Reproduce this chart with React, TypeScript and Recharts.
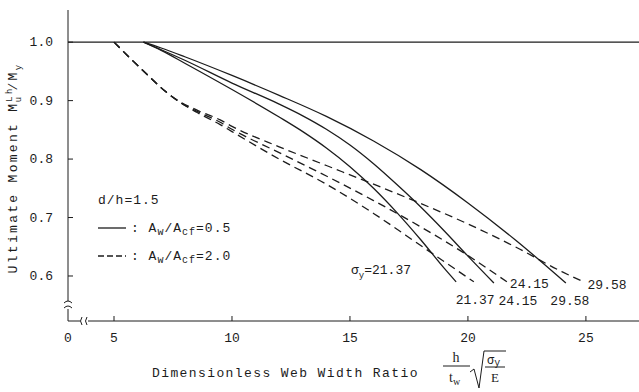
import { LineChart, Line, XAxis, YAxis, ReferenceLine } from 'recharts';

if (typeof document !== 'undefined') document.body.style.margin = '0';

const INK = '#1c1c1c';
const FONT = "'Liberation Mono', 'DejaVu Sans Mono', monospace";
const SERIF = "'Liberation Serif', 'DejaVu Serif', serif";

// solid: Aw/Acf = 0.5
const s2137X = [6.25, 7, 8, 10, 12, 13, 14, 15, 16, 17, 18, 19, 19.5];
const s2137Y = [1.0, 0.986, 0.964, 0.919, 0.872, 0.847, 0.819, 0.787, 0.75, 0.708, 0.662, 0.613, 0.59];
const s2415X = [6.25, 7, 8, 10, 12, 13, 14, 15, 16, 17, 18, 19, 20, 21.1];
const s2415Y = [1.0, 0.987, 0.969, 0.93, 0.894, 0.874, 0.851, 0.824, 0.792, 0.756, 0.718, 0.677, 0.634, 0.588];
const s2958X = [6.25, 7, 8, 10, 12, 14, 16, 18, 20, 22, 24.15];
const s2958Y = [1.0, 0.99, 0.975, 0.943, 0.909, 0.873, 0.831, 0.782, 0.725, 0.662, 0.588];

// dashed: Aw/Acf = 2.0
const d2137X = [5, 5.8, 6.5, 7.2, 7.8, 8.5, 9.5, 10, 12, 14, 16, 18, 20.25];
const d2137Y = [1.0, 0.968, 0.941, 0.915, 0.897, 0.88, 0.859, 0.847, 0.8, 0.757, 0.707, 0.652, 0.59];
const d2415X = [5, 5.8, 6.5, 7.2, 7.8, 8.5, 9.5, 10, 12, 14, 16, 18, 20, 21.65];
const d2415Y = [1.0, 0.968, 0.941, 0.915, 0.897, 0.882, 0.863, 0.851, 0.811, 0.771, 0.729, 0.684, 0.635, 0.59];
const d2958X = [5, 5.8, 6.5, 7.2, 7.8, 8.5, 9.5, 10, 12, 14, 16, 18, 20, 22, 24, 24.9];
const d2958Y = [1.0, 0.968, 0.941, 0.915, 0.898, 0.884, 0.867, 0.856, 0.821, 0.789, 0.757, 0.724, 0.689, 0.65, 0.607, 0.59];

const xTicks = [3.05, 5, 10, 15, 20, 25];
const yTicks = [0.6, 0.7, 0.8, 0.9, 1.0];

const zip = (xs: number[], ys: number[]) => xs.map((x, i) => ({ x, y: ys[i] }));

const endLabel = (text: string, n: number, dx: number, dy: number, anchor: 'start' | 'middle' = 'middle') =>
  (p: any) => {
    if (p.index !== n - 1) return <g />;
    return (
      <text x={p.x + dx} y={p.y + dy} textAnchor={anchor} fontFamily={FONT} fontSize={13} fill={INK}>
        {text}
      </text>
    );
  };

const XTick = ({ x, y, payload }: any) => {
  const v = payload.value;
  const zero = v < 4;
  return (
    <g>
      {!zero && <line x1={x} x2={x} y1={y} y2={y - 5} stroke={INK} />}
      <text x={x} y={y + 21} textAnchor="middle" fontFamily={FONT} fontSize={13} fill={INK}>
        {zero ? '0' : String(v)}
      </text>
    </g>
  );
};

const YTick = ({ x, y, payload }: any) => (
  <g>
    <line x1={x} x2={x + 5} y1={y} y2={y} stroke={INK} />
    <text x={x - 15} y={y + 4} textAnchor="end" fontFamily={FONT} fontSize={13} fill={INK}>
      {payload.value.toFixed(1)}
    </text>
  </g>
);

const lineProps = { type: 'monotone' as const, dataKey: 'y', stroke: INK, strokeWidth: 1.3, dot: false, isAnimationActive: false };

export default function App() {
  return (
    <div style={{ position: 'relative', width: 639, height: 392, background: '#fff' }}>
      <LineChart width={639} height={392} margin={{ top: 10, right: 0, bottom: 0, left: 0 }}>
        <XAxis dataKey="x" type="number" domain={[3.05, 27.25]} ticks={xTicks} allowDataOverflow
          height={71} tickSize={0} tickMargin={0} tickLine={false} tick={<XTick />}
          axisLine={{ stroke: INK }} />
        <YAxis type="number" domain={[0.523, 1.055]} ticks={yTicks} allowDataOverflow
          width={68} tickSize={0} tickMargin={0} tickLine={false} tick={<YTick />}
          axisLine={{ stroke: INK }} />
        <ReferenceLine y={1} stroke={INK} strokeWidth={1.2} />
        <Line {...lineProps} data={zip(s2137X, s2137Y)} label={endLabel('21.37', s2137X.length, 19, 22)} />
        <Line {...lineProps} data={zip(s2415X, s2415Y)} label={endLabel('24.15', s2415X.length, 24, 22)} />
        <Line {...lineProps} data={zip(s2958X, s2958Y)} label={endLabel('29.58', s2958X.length, 4, 22)} />
        <Line {...lineProps} data={zip(d2137X, d2137Y)} strokeDasharray="8 5" />
        <Line {...lineProps} data={zip(d2415X, d2415Y)} strokeDasharray="8 5" label={endLabel('24.15', d2415X.length, 3, 6, 'start')} />
        <Line {...lineProps} data={zip(d2958X, d2958Y)} strokeDasharray="8 5" label={endLabel('29.58', d2958X.length, 4, 7, 'start')} />
      </LineChart>
      <svg width={639} height={392} style={{ position: 'absolute', left: 0, top: 0, pointerEvents: 'none' }}
        fontFamily={FONT} fill={INK}>
        {/* axis breaks */}
        <rect x={64} y={301} width={8} height={8} fill="#fff" />
        <path d="M64 303 q4 -4 8 0 M64 308 q4 -4 8 0" stroke={INK} fill="none" />
        <rect x={80} y={317} width={8} height={8} fill="#fff" />
        <path d="M82 317 q-3 4 0 8 M87 317 q-3 4 0 8" stroke={INK} fill="none" />

        {/* y title */}
        <text transform="translate(17,168) rotate(-90)" textAnchor="middle" fontSize={13} letterSpacing={2.3}>
          Ultimate Moment M<tspan fontSize={9} dy={-5}>Lh</tspan>
          <tspan fontSize={9} dx={-16} dy={9}>u</tspan>
          <tspan dx={4} dy={-4}>/M</tspan>
          <tspan fontSize={9} dy={4}>y</tspan>
        </text>

        {/* x title */}
        <text x={152} y={377} fontSize={13} letterSpacing={1.4}>Dimensionless Web Width Ratio</text>
        <text x={456} y={362} textAnchor="middle" fontFamily={SERIF} fontSize={14}>h</text>
        <line x1={443} x2={470} y1={366} y2={366} stroke={INK} />
        <text x={449} y={382} fontFamily={SERIF} fontSize={14}>t<tspan fontSize={10} dy={3}>w</tspan></text>
        <path d="M470 372 L474 369 L479 388 L484 351 L506 351" stroke={INK} fill="none" />
        <text x={487} y={364} fontSize={12}>σ<tspan fontSize={10} dy={2}>y</tspan></text>
        <line x1={485} x2={505} y1={367} y2={367} stroke={INK} />
        <text x={491} y={382} fontFamily={SERIF} fontSize={13}>E</text>

        {/* legend */}
        <text x={98} y={204} fontSize={13} letterSpacing={1}>d/h=1.5</text>
        <line x1={98} x2={126} y1={228} y2={228} stroke={INK} strokeWidth={1.3} />
        <text x={131} y={232} fontSize={13} letterSpacing={1}>: A<tspan fontSize={10} dy={3}>w</tspan><tspan dy={-3}>/A</tspan><tspan fontSize={10} dy={3}>cf</tspan><tspan dy={-3}>=0.5</tspan></text>
        <line x1={98} x2={126} y1={256} y2={256} stroke={INK} strokeWidth={1.3} strokeDasharray="6 3" />
        <text x={131} y={260} fontSize={13} letterSpacing={1}>: A<tspan fontSize={10} dy={3}>w</tspan><tspan dy={-3}>/A</tspan><tspan fontSize={10} dy={3}>cf</tspan><tspan dy={-3}>=2.0</tspan></text>

        {/* sigma annotation */}
        <text x={351} y={274} fontSize={13}>σ<tspan fontSize={9} dy={4}>y</tspan><tspan dy={-4}>=21.37</tspan></text>
      </svg>
    </div>
  );
}
